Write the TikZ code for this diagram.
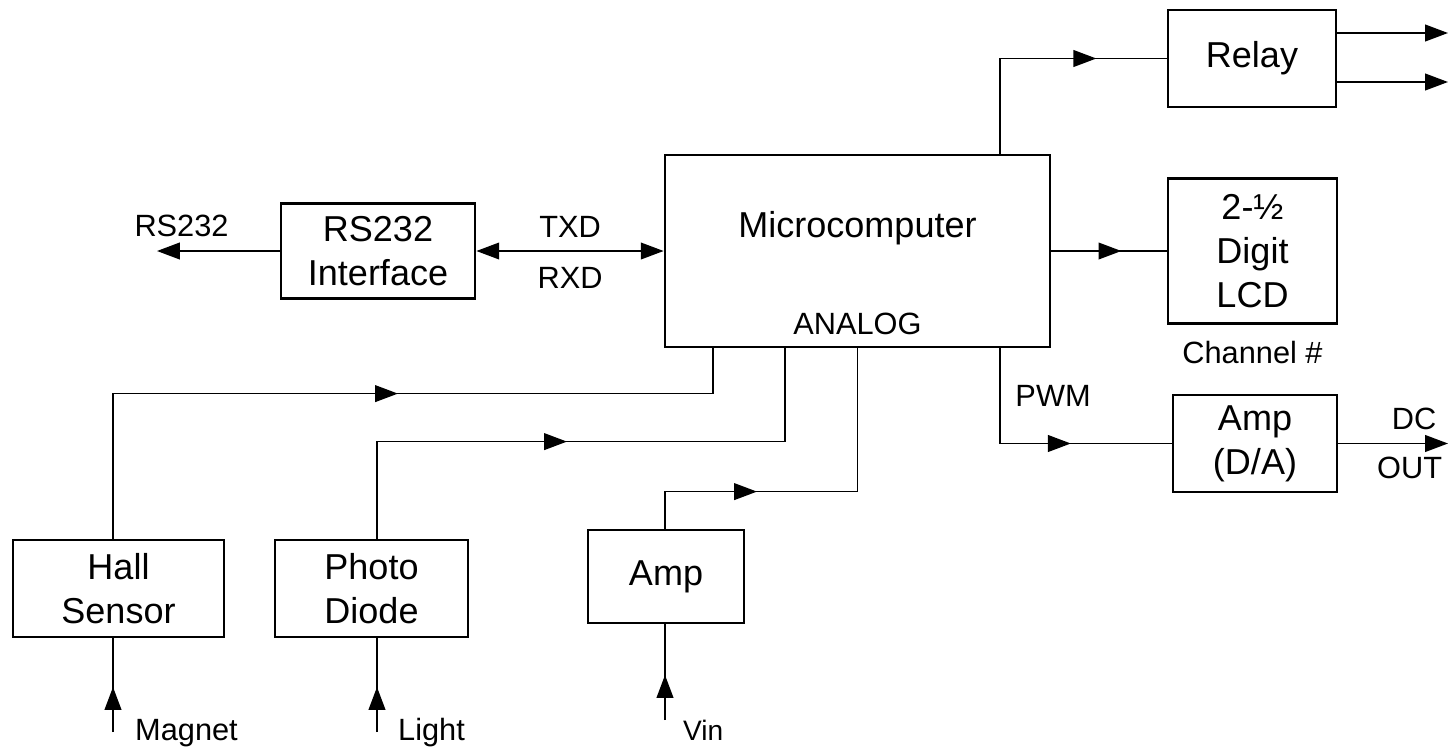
\documentclass[tikz,border=0pt]{standalone}
\usepackage{fontspec}
\setmainfont{Liberation Sans}
\usetikzlibrary{arrows.meta,positioning,decorations.markings}

\newcommand{\boxfont}{\fontsize{20.5}{25}\selectfont}
\newcommand{\lblfont}{\fontsize{17.5}{21}\selectfont}
\tikzset{
  blk/.style={draw,line width=1.6pt,align=center,font=\boxfont,inner sep=0pt},
  lbl/.style={font=\lblfont},
  wire/.style={line width=1pt},
  midarrow/.style={postaction={decorate},decoration={markings,
    mark=at position #1 with {\arrow{Triangle[length=13pt,width=9.5pt]}}}},
}

\begin{document}
\begin{tikzpicture}[x=0.02cm,y=-0.02cm,>={Triangle[length=13pt,width=9.5pt]}]
\useasboundingbox (0,0) rectangle (1448,748);

% blocks
\node[blk,minimum width=7.70cm,minimum height=3.84cm] (mcu) at (857.5,251) {};
\node[blk,minimum width=3.36cm,minimum height=1.94cm] (relay) at (1252,58.5) {Relay};
\node[blk,minimum width=3.38cm,minimum height=2.90cm] (lcd) at (1252.5,251) {2-½\\Digit\\LCD};
\node[blk,minimum width=3.28cm,minimum height=1.94cm] (ampda) at (1255,443.5) {Amp\\(D/A)};
\node[blk,minimum width=3.88cm,minimum height=1.90cm] (iface) at (378,251) {RS232\\Interface};
\node[blk,minimum width=4.22cm,minimum height=1.94cm] (hall) at (118.5,588.5) {Hall\\Sensor};
\node[blk,minimum width=3.86cm,minimum height=1.94cm] (photo) at (371.5,588.5) {Photo\\Diode};
\node[blk,minimum width=3.12cm,minimum height=1.86cm] (amp) at (666,576.5) {Amp};

% texts in and under the blocks
\node[font=\boxfont,anchor=base] (mcutxt) at ([yshift=-1.68cm]mcu.north) {Microcomputer};
\node[lbl,anchor=base] (analog) at ([yshift=0.28cm]mcu.south) {ANALOG};
\node[lbl,below=5.5pt of lcd] (chan) {Channel \#};

% taps and free ends
\coordinate (tapr) at ([xshift=2.85cm]mcu.north);
\coordinate (tapp) at ([xshift=2.85cm]mcu.south);
\coordinate (tap1) at ([xshift=-2.89cm]mcu.south);
\coordinate (tap2) at ([xshift=-1.45cm]mcu.south);
\coordinate (tap3) at (mcu.south);
\coordinate (ry1) at (1448,33);
\coordinate (ry2) at (1448,82);
\coordinate (dcout) at (1448,443.5);
\coordinate (rsout) at (157,251);
\coordinate (magin) at (113,732);
\coordinate (lightin) at (377,732);
\coordinate (vin) at (665,720);

% outputs
\draw[wire,midarrow=3.83cm] (tapr) |- (relay.west);
\draw[wire,->] (relay.east |- ry1) -- (ry1);
\draw[wire,->] (relay.east |- ry2) -- (ry2);
\draw[wire,midarrow=1.4cm] (mcu.east) -- (lcd.west);
\draw[wire,midarrow=3.32cm] (tapp) |- node[lbl,pos=0.25,right=5pt] {PWM} (ampda.west);
\draw[wire,->] (ampda.east) -- node[lbl,pos=0.69,above=4pt] {DC} node[lbl,pos=0.65,below=4pt] {OUT} (dcout);

% serial link
\draw[wire,<->] (iface.east) -- node[lbl,above=4pt] {TXD} node[lbl,below=5.5pt] {RXD} (mcu.west);
\draw[wire,->] (iface.west) -- node[lbl,pos=0.8,above=4pt] {RS232} (rsout);

% analog inputs
\draw[wire,midarrow=8.6cm] (hall.north -| magin) -- ++(0,-145) -| (tap1);
\draw[wire,midarrow=5.74cm] (photo.north -| lightin) -- ++(0,-97) -| (tap2);
\draw[wire,midarrow=2.58cm] (amp.north -| vin) -- ++(0,-37) -| (tap3);

\draw[wire,midarrow=0.9cm] (magin) -- (hall.south -| magin);
\draw[wire,midarrow=0.9cm] (lightin) -- (photo.south -| lightin);
\draw[wire,midarrow=0.9cm] (vin) -- (amp.south -| vin);
\node[lbl,anchor=base west] (magtxt) at (129,740) {Magnet};
\node[lbl,anchor=base west] (lighttxt) at (392,740) {Light};
\node[lbl,anchor=base west,font=\fontsize{16}{19}\selectfont] (vintxt) at (677,740) {Vin};
\end{tikzpicture}
\end{document}
